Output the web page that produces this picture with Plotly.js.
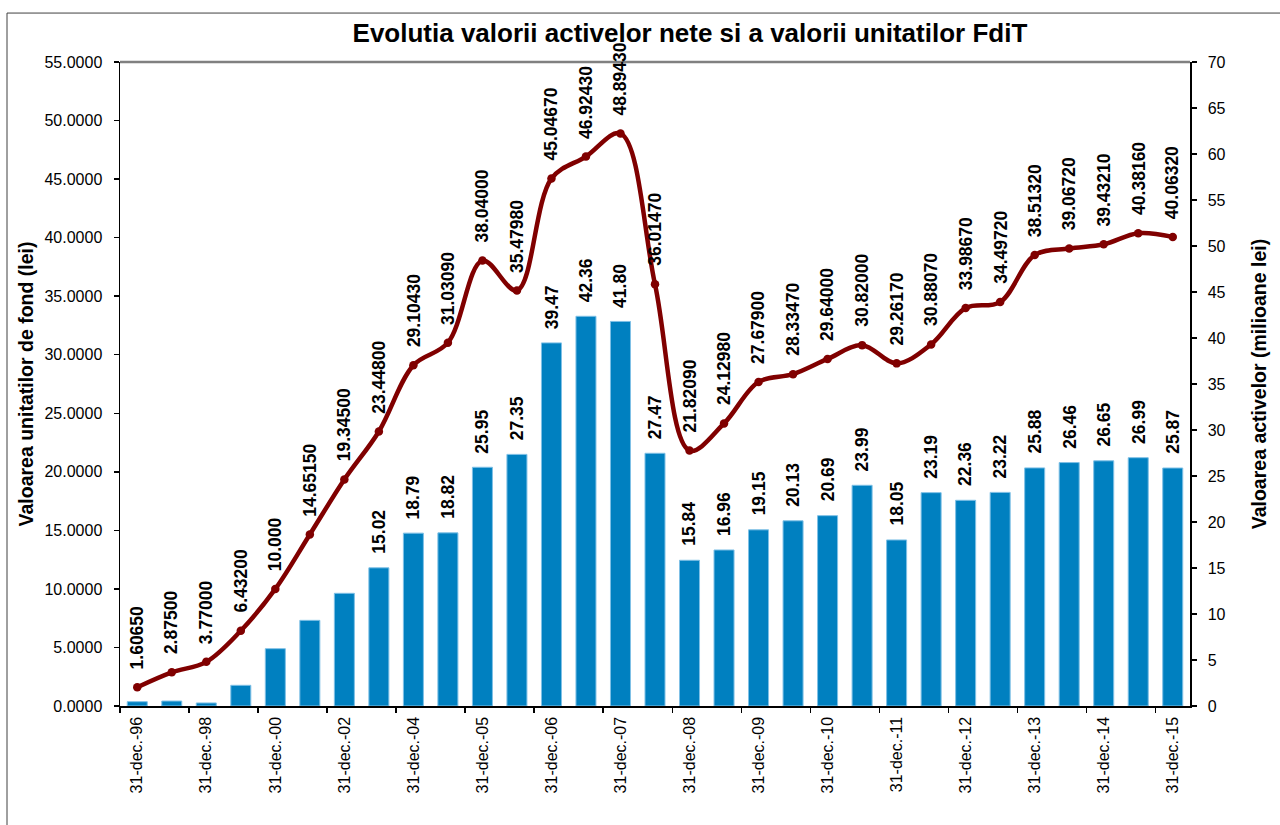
<!DOCTYPE html>
<html>
<head>
<meta charset="utf-8">
<script src="https://cdn.plot.ly/plotly-3.0.1.min.js"></script>
<style>
html,body{margin:0;padding:0;background:#fff;}
#chart{width:1280px;height:825px;}
</style>
</head>
<body>
<div id="chart"></div>
<script>
// Categories (semi-annual from 2005)
const dates = [
  "31-dec.-96","31-dec.-97","31-dec.-98","31-dec.-99","31-dec.-00","31-dec.-01",
  "31-dec.-02","31-dec.-03","31-dec.-04","30-iun.-05","31-dec.-05","30-iun.-06",
  "31-dec.-06","30-iun.-07","31-dec.-07","30-iun.-08","31-dec.-08","30-iun.-09",
  "31-dec.-09","30-iun.-10","31-dec.-10","30-iun.-11","31-dec.-11","30-iun.-12",
  "31-dec.-12","30-iun.-13","31-dec.-13","30-iun.-14","31-dec.-14","30-iun.-15",
  "31-dec.-15"
];

// Unit value (lei) - left axis, line
const unitLabels = [
  "1.60650","2.87500","3.77000","6.43200","10.000","14.65150","19.34500","23.44800",
  "29.10430","31.03090","38.04000","35.47980","45.04670","46.92430","48.89430",
  "36.01470","21.82090","24.12980","27.67900","28.33470","29.64000","30.82000",
  "29.26170","30.88070","33.98670","34.49720","38.51320","39.06720","39.43210",
  "40.38160","40.06320"
];
const unitValues = unitLabels.map(parseFloat);

// Net assets (million lei) - right axis, bars
const assets = [
  0.47, 0.54, 0.33, 2.25, 6.23, 9.31, 12.25, 15.02, 18.79, 18.82, 25.95, 27.35,
  39.47, 42.36, 41.80, 27.47, 15.84, 16.96, 19.15, 20.13, 20.69, 23.99, 18.05,
  23.19, 22.36, 23.22, 25.88, 26.46, 26.65, 26.99, 25.87
];
const assetLabelFrom = 7; // first labelled bar

const FONT = 'Arial, "Liberation Sans", sans-serif';

const bars = {
  type: 'bar',
  x: dates,
  y: assets,
  yaxis: 'y',
  marker: { color: '#0080C0', line: { color: '#7fc0e6', width: 1 } },
  hoverinfo: 'x+y'
};

const line = {
  type: 'scatter',
  mode: 'lines+markers',
  x: dates,
  y: unitValues,
  yaxis: 'y2',
  line: { color: '#800000', width: 4.5, shape: 'spline', smoothing: 1 },
  marker: { color: '#800000', size: 8.5 },
  hoverinfo: 'x+y'
};

const annotations = [];
unitValues.forEach((v, i) => {
  annotations.push({
    x: dates[i], y: v, xref: 'x', yref: 'y2',
    text: '<b>' + unitLabels[i] + '</b>',
    textangle: -90, showarrow: false,
    xanchor: 'center', yanchor: 'bottom', yshift: 16,
    font: { family: FONT, size: 17.5, color: '#000' }
  });
});
assets.forEach((v, i) => {
  if (i < assetLabelFrom) return;
  annotations.push({
    x: dates[i], y: v, xref: 'x', yref: 'y',
    text: '<b>' + v.toFixed(2) + '</b>',
    textangle: -90, showarrow: false,
    xanchor: 'center', yanchor: 'bottom', yshift: 12,
    font: { family: FONT, size: 17.5, color: '#000' }
  });
});

const layout = {
  width: 1280, height: 825,
  margin: { l: 120, r: 90, t: 62, b: 119, pad: 0 },
  paper_bgcolor: '#ffffff', plot_bgcolor: '#ffffff',
  showlegend: false,
  font: { family: FONT, color: '#000', size: 15 },
  title: {
    text: '<b>Evolutia valorii activelor nete si a valorii unitatilor FdiT</b>',
    font: { family: FONT, size: 26, color: '#000' },
    xref: 'container', x: 0.539, xanchor: 'center',
    yref: 'container', y: 0.96, yanchor: 'middle'
  },
  bargap: 0.42,
  xaxis: {
    type: 'category', tickmode: 'linear', tick0: 0, dtick: 2,
    tickson: 'boundaries', ticks: 'outside', ticklen: 5, tickcolor: '#000', tickwidth: 1.5,
    tickangle: -90, ticklabelstandoff: 3,
    showline: true, linecolor: '#000', linewidth: 1.5,
    showgrid: false, zeroline: false, range: [-0.5, 30.5],
    tickfont: { family: FONT, size: 16, color: '#000' }
  },
  yaxis: {
    side: 'right', range: [0, 70], tick0: 0, dtick: 5,
    ticks: 'outside', ticklen: 5, tickcolor: '#000', tickwidth: 1.5,
    showline: true, linecolor: '#000', linewidth: 1.5,
    showgrid: false, zeroline: false, ticklabelstandoff: 8,
    tickfont: { family: FONT, size: 16, color: '#000' },
    title: { text: '<b>Valoarea activelor (milioane lei)</b>', font: { family: FONT, size: 19.5, color: '#000' }, standoff: 28 }
  },
  yaxis2: {
    overlaying: 'y', side: 'left', range: [0, 55], tick0: 0, dtick: 5, tickformat: '.4f',
    ticks: 'outside', ticklen: 5, tickcolor: '#000', tickwidth: 1.5,
    showline: true, linecolor: '#000', linewidth: 1.5,
    showgrid: false, zeroline: false, ticklabelstandoff: 8,
    tickfont: { family: FONT, size: 16, color: '#000' },
    title: { text: '<b>Valoarea unitatilor de fond (lei)</b>', font: { family: FONT, size: 19.5, color: '#000' }, standoff: 5 }
  },
  annotations: annotations,
  shapes: [
    { type: 'line', xref: 'paper', yref: 'paper', x0: 0, x1: 1, y0: 1, y1: 1,
      line: { color: '#808080', width: 2.5 } },
    { type: 'rect', xref: 'paper', yref: 'paper', x0: -0.1056, x1: 1.1, y0: 1.076, y1: -0.25,
      line: { color: '#404040', width: 1 }, fillcolor: 'rgba(0,0,0,0)' }
  ]
};

Plotly.newPlot('chart', [bars, line], layout, { displayModeBar: false, staticPlot: true });
</script>
</body>
</html>
